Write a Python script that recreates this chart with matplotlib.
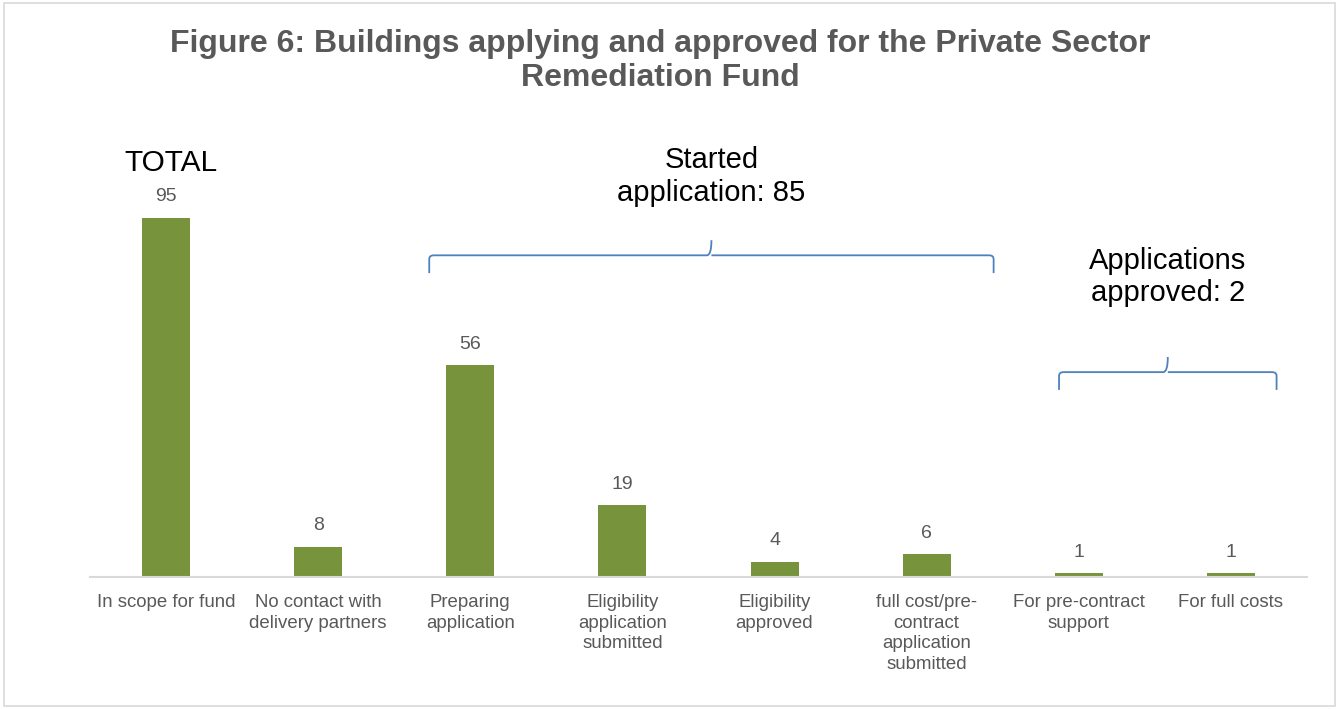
import numpy as np
import matplotlib.pyplot as plt
from matplotlib.path import Path
from matplotlib.patches import PathPatch, Rectangle

plt.rcParams['font.family'] = ['Liberation Sans', 'DejaVu Sans']

categories = ['In scope for fund', 'No contact with\ndelivery partners', 'Preparing\napplication',
              'Eligibility\napplication\nsubmitted', 'Eligibility\napproved',
              'full cost/pre-\ncontract\napplication\nsubmitted', 'For pre-contract\nsupport',
              'For full costs']
values = [95, 8, 56, 19, 4, 6, 1, 1]

# group braces: (x start, x end, y bottom, label, label y)
groups = [(1.73, 5.44, 80.4, 'Started\napplication: 85', 106.0),
          (5.87, 7.30, 49.5, 'Applications\napproved: 2', 79.4)]

bar_color = '#77933C'
text_color = '#595959'
brace_color = '#4F81BD'


def draw_brace(ax, x0, x1, y0, h=4.7, tip=4.0, r=0.03):
    xm = (x0 + x1) / 2
    yt = y0 + h
    verts = [(x0, y0), (x0, yt - 1.0), (x0, yt), (x0 + r, yt),
             (xm - r, yt), (xm, yt), (xm, yt + tip),
             (xm, yt), (xm + r, yt),
             (x1 - r, yt), (x1, yt), (x1, yt - 1.0), (x1, y0)]
    codes = [Path.MOVETO, Path.LINETO, Path.CURVE3, Path.CURVE3,
             Path.LINETO, Path.CURVE3, Path.CURVE3,
             Path.MOVETO, Path.CURVE3,
             Path.LINETO, Path.CURVE3, Path.CURVE3, Path.LINETO]
    ax.add_patch(PathPatch(Path(verts, codes), fill=False, edgecolor=brace_color,
                           linewidth=1.3, clip_on=False))


fig = plt.figure(figsize=(13.39, 7.09), dpi=100)
fig.patches.append(Rectangle((0.003, 0.004), 0.994, 0.992, transform=fig.transFigure,
                             fill=False, edgecolor='#D9D9D9', linewidth=1.2))
ax = fig.add_axes([90 / 1339, 1 - 577 / 709, (1307 - 90) / 1339, 378 / 709])

x = np.arange(len(categories))
bars = ax.bar(x, values, width=0.315, color=bar_color)
for xi, v in zip(x, values):
    ax.text(xi, v + 3.3, str(v), ha='center', va='bottom', fontsize=14, color=text_color)

ax.set_xlim(-0.5, len(categories) - 0.5)
ax.set_ylim(0, 100)
ax.set_yticks([])
ax.set_xticks(x)
ax.set_xticklabels(categories, fontsize=13.4, color=text_color, linespacing=1.3)
ax.tick_params(axis='x', length=0, pad=12)
for s in ['top', 'left', 'right']:
    ax.spines[s].set_visible(False)
ax.spines['bottom'].set_color('#D9D9D9')
ax.spines['bottom'].set_linewidth(1.5)

ax.text(0.03, 109.5, 'TOTAL', ha='center', va='center', fontsize=21.5, color='black', clip_on=False)

for x0, x1, y0, label, ly in groups:
    draw_brace(ax, x0, x1, y0)
    ax.text((x0 + x1) / 2, ly, label, ha='center', va='center',
            fontsize=21, color='black', linespacing=1.2, clip_on=False)

fig.text(0.493, 0.914, 'Figure 6: Buildings applying and approved for the Private Sector\nRemediation Fund',
         ha='center', va='center', fontsize=23, fontweight='bold', color=text_color,
         linespacing=1.18)

fig.savefig('out.png', dpi=100)
